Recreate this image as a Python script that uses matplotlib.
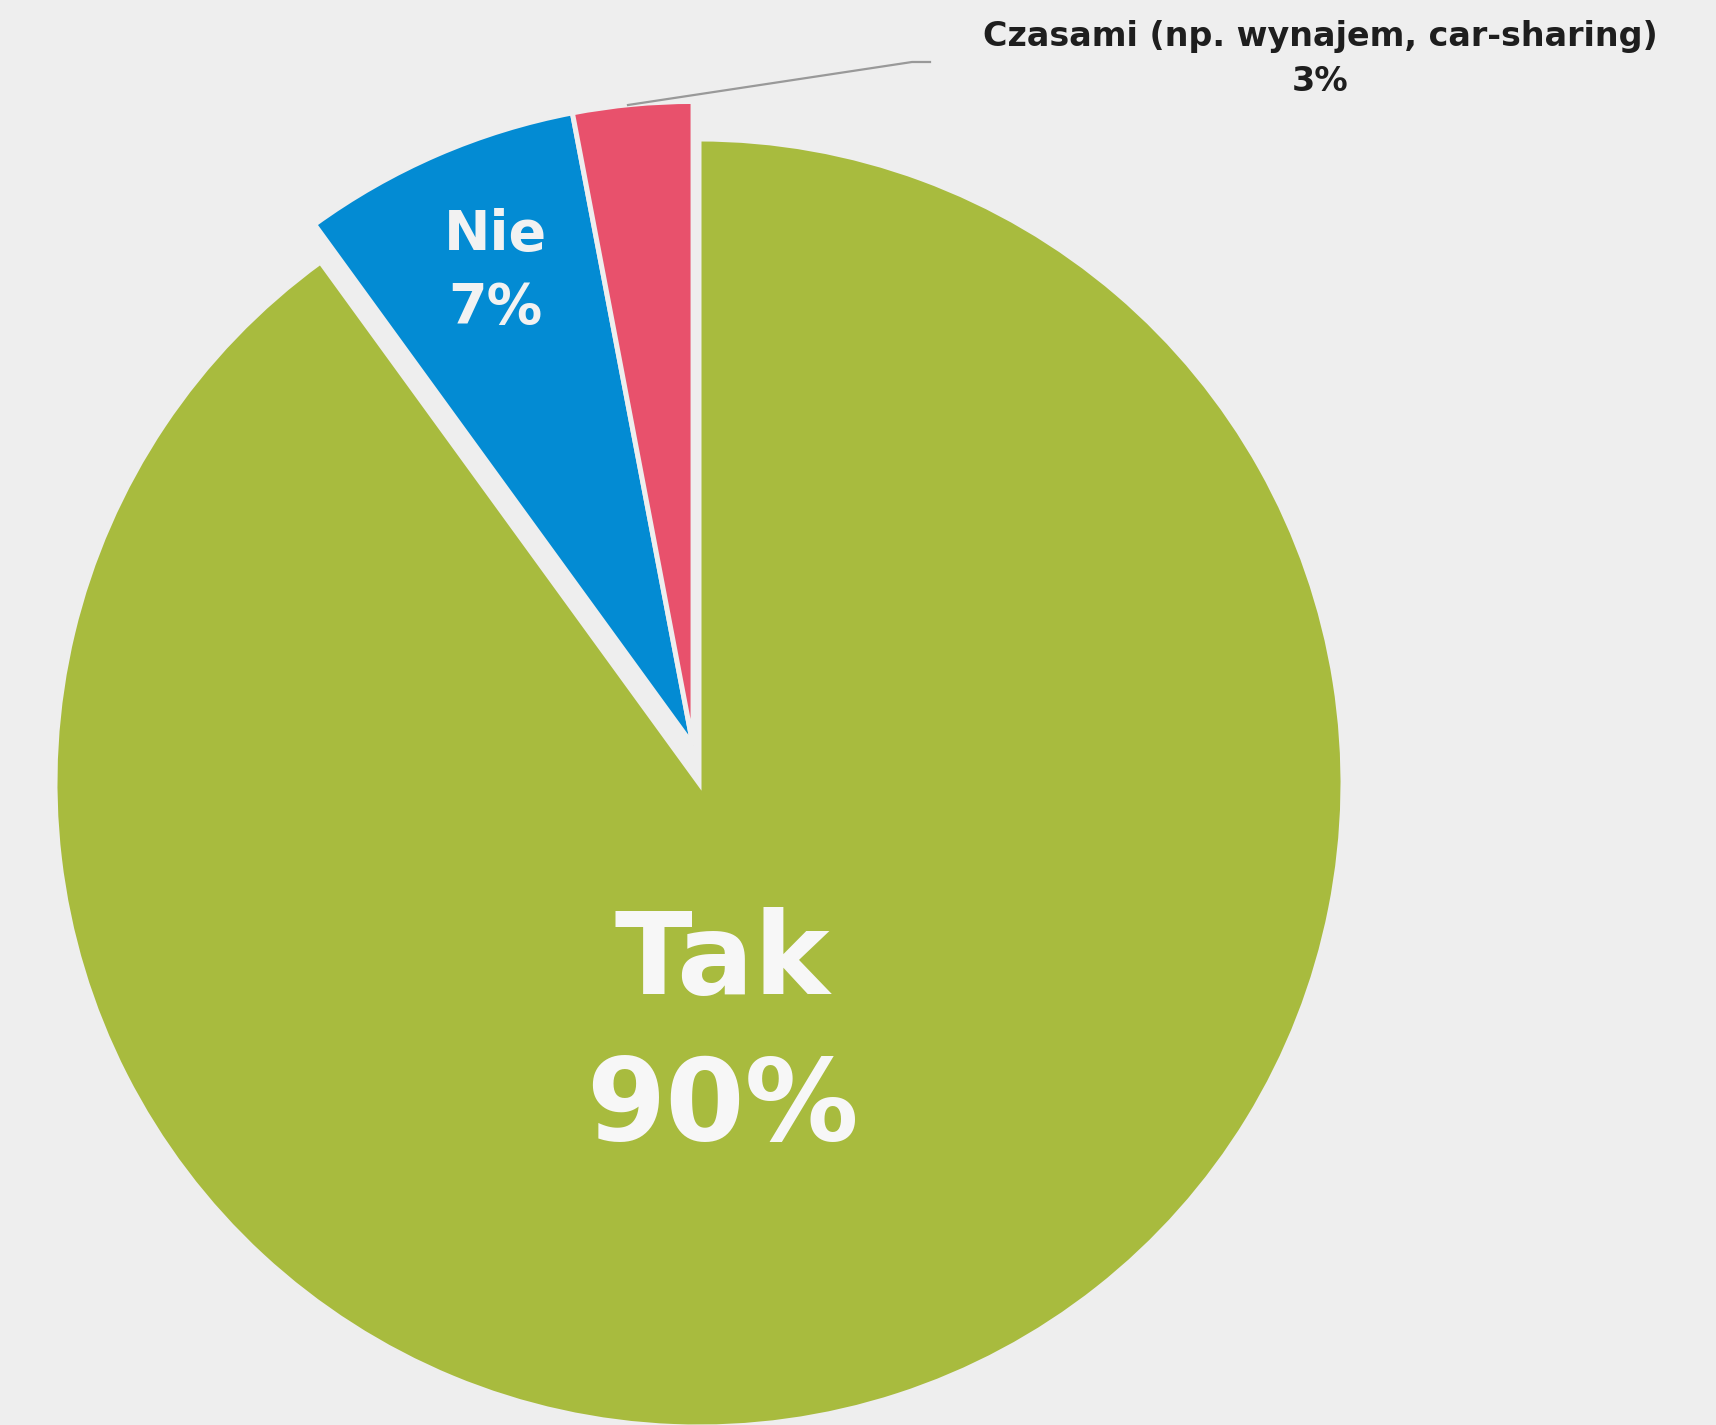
import numpy as np
import matplotlib.pyplot as plt

# udział odpowiedzi
labels = ['Tak', 'Nie', 'Czasami (np. wynajem, car-sharing)']
values = [90, 7, 3]
colors = ['#A8BB3E', '#038BD3', '#E8516C']
bg = '#EEEEEE'

fig = plt.figure(figsize=(17.16, 14.25), dpi=100, facecolor=bg)
ax = fig.add_axes([0, 0, 1, 1])

cx, cy, r = 699, 642, 644
wedges, _ = ax.pie(values, colors=colors, startangle=90, counterclock=False,
                   center=(cx, cy), radius=r,
                   wedgeprops=dict(edgecolor=bg, linewidth=3.6))

# "Nie" i "Czasami" wysunięte razem o ten sam wektor
ang = np.deg2rad(99)
d = 38
for w in wedges[1:]:
    w.set_center((cx + d * np.cos(ang), cy + d * np.sin(ang)))

# pie() nadpisuje zakresy osi, więc ustawiamy je dopiero tutaj
ax.set_xlim(0, 1716)
ax.set_ylim(0, 1425)
ax.set_aspect('equal')
ax.axis('off')

# podpisy na wycinkach
ax.text(722, 462, labels[0], ha='center', va='center', color='#F7F7F7',
        fontsize=82, fontweight='bold')
ax.text(722, 317, f'{values[0]}%', ha='center', va='center', color='#F7F7F7',
        fontsize=82, fontweight='bold')
ax.text(495, 1190, labels[1], ha='center', va='center', color='#F2F2F2',
        fontsize=40, fontweight='bold')
ax.text(495, 1117, f'{values[1]}%', ha='center', va='center', color='#F2F2F2',
        fontsize=40, fontweight='bold')

# podpis z linią odniesienia
ax.plot([628, 912, 930], [1320, 1363, 1363], color='#999999', lw=1.6)
ax.text(1320, 1389, labels[2], ha='center', va='center', color='#1E1E1E',
        fontsize=24, fontweight='bold')
ax.text(1320, 1344, f'{values[2]}%', ha='center', va='center', color='#1E1E1E',
        fontsize=24, fontweight='bold')

fig.savefig('out.png', dpi=100, facecolor=bg)
